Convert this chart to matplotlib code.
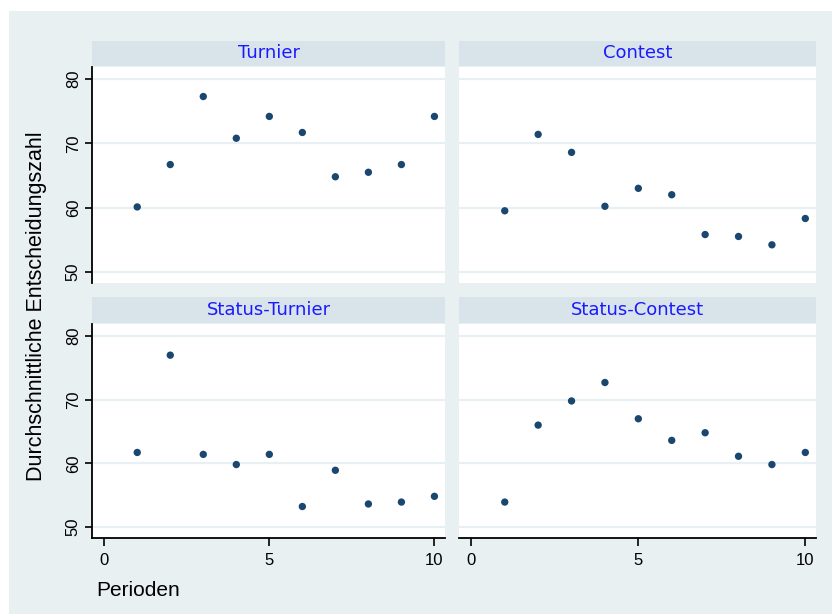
import matplotlib
matplotlib.use('Agg')
import matplotlib.pyplot as plt

# Daten
perioden = [1, 2, 3, 4, 5, 6, 7, 8, 9, 10]
turnier = [60.1, 66.7, 77.3, 70.8, 74.2, 71.7, 64.8, 65.5, 66.7, 74.2]
contest = [59.5, 71.4, 68.6, 60.2, 63.0, 62.0, 55.8, 55.5, 54.2, 58.3]
status_turnier = [61.7, 77.0, 61.4, 59.8, 61.4, 53.2, 58.9, 53.6, 53.9, 54.8]
status_contest = [53.9, 66.0, 69.8, 72.7, 67.0, 63.6, 64.8, 61.1, 59.8, 61.7]

titel = ['Turnier', 'Contest', 'Status-Turnier', 'Status-Contest']
reihen = [turnier, contest, status_turnier, status_contest]
y_ticks = [50, 60, 70, 80]
x_ticks = [0, 5, 10]

W, H = 832, 614
bg = '#e8f0f2'
strip = '#d9e4ea'
grid_col = '#e8f0f3'
marker_col = '#1a476f'

fig = plt.figure(figsize=(W / 100, H / 100), dpi=100)
fig.patch.set_facecolor('white')

# aeusserer Hintergrund
fig.patches.append(plt.Rectangle((9 / W, 0), 1 - 9 / W, 1 - 11 / H, transform=fig.transFigure,
                                 facecolor=bg, edgecolor='none', zorder=-5))


def box(x0, y0, x1, y1):
    return [x0 / W, 1 - y1 / H, (x1 - x0) / W, (y1 - y0) / H]


spalten = [(92, 445), (459, 816)]
zeilen = [(41, 66, 283), (297, 323, 538)]

for i in range(4):
    r, c = divmod(i, 2)
    x0, x1 = spalten[c]
    ys, yp, yb = zeilen[r]

    # Kopfzeile
    hx = fig.add_axes(box(x0, ys, x1, yp))
    hx.set_facecolor(strip)
    hx.set_xticks([])
    hx.set_yticks([])
    for s in hx.spines.values():
        s.set_visible(False)
    hx.text(0.5, 0.5, titel[i], ha='center', va='center', color='#1a1aff',
            fontsize=13, family='DejaVu Sans', transform=hx.transAxes)

    ax = fig.add_axes(box(x0, yp + 1, x1, yb))
    ax.set_facecolor('white')
    ax.scatter(perioden, reihen[i], s=28, color=marker_col, edgecolors='none', zorder=3)
    ax.set_xlim(-0.37, 10.32)
    ax.set_ylim(48.25, 81.9)
    ax.set_yticks(y_ticks)
    ax.set_xticks(x_ticks)
    ax.grid(axis='y', color=grid_col, linewidth=1.6)
    ax.set_axisbelow(True)
    for s in ax.spines.values():
        s.set_visible(False)
    if c == 0:
        ax.spines['left'].set_visible(True)
        ax.spines['left'].set_linewidth(1.3)
        ax.tick_params(axis='y', length=5, width=1.2, labelsize=12, pad=3)
        for t in ax.get_yticklabels():
            t.set_rotation(90)
            t.set_va('center')
            t.set_family('Liberation Sans')
    else:
        ax.tick_params(axis='y', length=0, labelleft=False)
    if r == 1:
        ax.spines['bottom'].set_visible(True)
        ax.spines['bottom'].set_linewidth(1.3)
        ax.tick_params(axis='x', length=6, width=1.2, labelsize=12, pad=5)
        for t in ax.get_xticklabels():
            t.set_family('Liberation Sans')
    else:
        ax.tick_params(axis='x', length=0, labelbottom=False)

fig.text(37 / W, 1 - 306 / H, 'Durchschnittliche Entscheidungszahl', rotation=90,
         ha='center', va='center', fontsize=15.5, family='Liberation Sans')
fig.text(96 / W, 1 - 590 / H, 'Perioden', ha='left', va='center',
         fontsize=15, family='Liberation Sans')

fig.savefig('out.png', dpi=100, facecolor=fig.get_facecolor())
